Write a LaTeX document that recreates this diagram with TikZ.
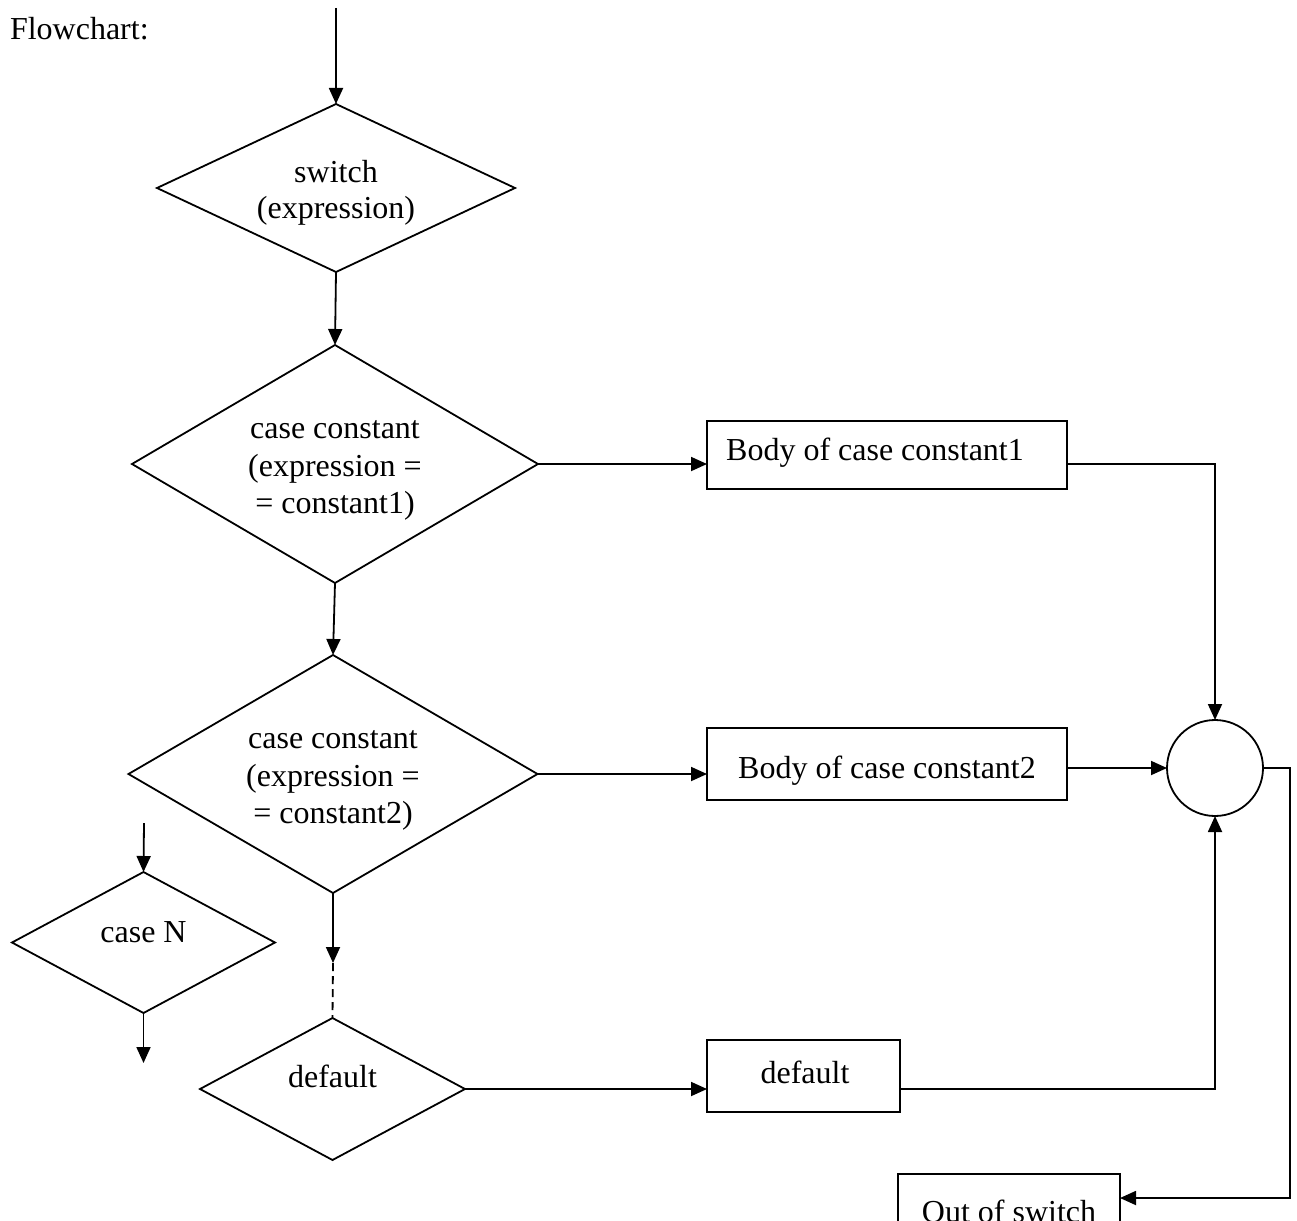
\documentclass[tikz,border=0pt]{standalone}
\usepackage{fontspec}
\setmainfont{Liberation Serif}
\usetikzlibrary{shapes.geometric,arrows.meta,calc}
\begin{document}
\begin{tikzpicture}[x=1pt,y=-1pt,
  every node/.style={inner sep=0pt,outer sep=0pt},
  dia/.style={draw,diamond,line width=1.8pt},
  boxn/.style={draw,rectangle,line width=1.8pt},
  txt/.style={font=\fontsize{32}{37}\selectfont,anchor=base},
  arr/.style={line width=1.8pt,-{Triangle[length=16pt,width=14pt]}},
  ln/.style={line width=1.8pt}]
\useasboundingbox (0,0) rectangle (1297,1220);
\clip (0,0) rectangle (1297,1220);

\node[txt,anchor=base west] (title) at (10,40) {Flowchart:};

% shapes
\node[dia,minimum width=358,minimum height=168] (d0) at (336,188) {};
\node[dia,minimum width=406,minimum height=238] (d1) at (335,464) {};
\node[dia,minimum width=409,minimum height=238] (d2) at (333,774) {};
\node[dia,minimum width=263,minimum height=141] (dN) at (143.5,942.5) {};
\node[dia,minimum width=265,minimum height=142] (dD) at (332.5,1089) {};

\node[boxn,minimum width=360,minimum height=68] (b1) at (887,455) {};
\node[boxn,minimum width=360,minimum height=72] (b2) at (887,764) {};
\node[boxn,minimum width=193,minimum height=72] (b3) at (803.5,1076) {};
\node[boxn,minimum width=222,minimum height=86] (bo) at (1009,1217) {};
\node[draw,circle,line width=1.8pt,minimum size=96] (c) at (1215,768) {};

% texts
\node[txt] (t0a) at (336,182) {switch};
\node[txt] (t0b) at (336,218) {(expression)};
\node[txt] (t1a) at (335,438) {case constant};
\node[txt] (t1b) at (335,476) {(expression =};
\node[txt] (t1c) at (335,513) {= constant1)};
\node[txt] (t2a) at (333,748) {case constant};
\node[txt] (t2b) at (333,786) {(expression =};
\node[txt] (t2c) at (333,823) {= constant2)};
\node[txt] (tN) at (143.5,942) {case N};
\node[txt] (tD) at (332.5,1087) {default};
\node[txt] (tb1) at (875,460) {Body of case constant1};
\node[txt] (tb2) at (887,778) {Body of case constant2};
\node[txt] (tb3) at (805,1083) {default};
\node[txt] (tbo) at (1009,1222) {Out of switch};

% free ends
\coordinate (start) at (336,8);
\coordinate (gap) at (333,963);
\coordinate (nin) at (144,823);
\coordinate (nout) at (143.5,1063);
\coordinate (turn) at (1290,1198);

% connectors
\draw[arr] (start) -- (d0.north);
\draw[arr] (d0.south) -- (d1.north);
\draw[arr] (d1.east) -- (d1.east -| b1.west);
\draw[arr] (d1.east -| b1.east) -| (c.north);
\draw[arr] (d1.south) -- (d2.north);
\draw[arr] (d2.east) -- (d2.east -| b2.west);
\draw[arr] (c.west -| b2.east) -- (c.west);
\draw[arr] (d2.south) -- (gap);
\draw[ln,dash pattern=on 8pt off 5pt] (gap) -- (dD.north);
\draw[arr] (dD.east) -- (dD.east -| b3.west);
\draw[arr] (dD.east -| b3.east) -| (c.south);
\draw[arr] (c.east) -| (turn) -- (turn -| bo.east);
\draw[arr] (nin) -- (dN.north);
\draw[arr] (dN.south) -- (nout);
\end{tikzpicture}
\end{document}
